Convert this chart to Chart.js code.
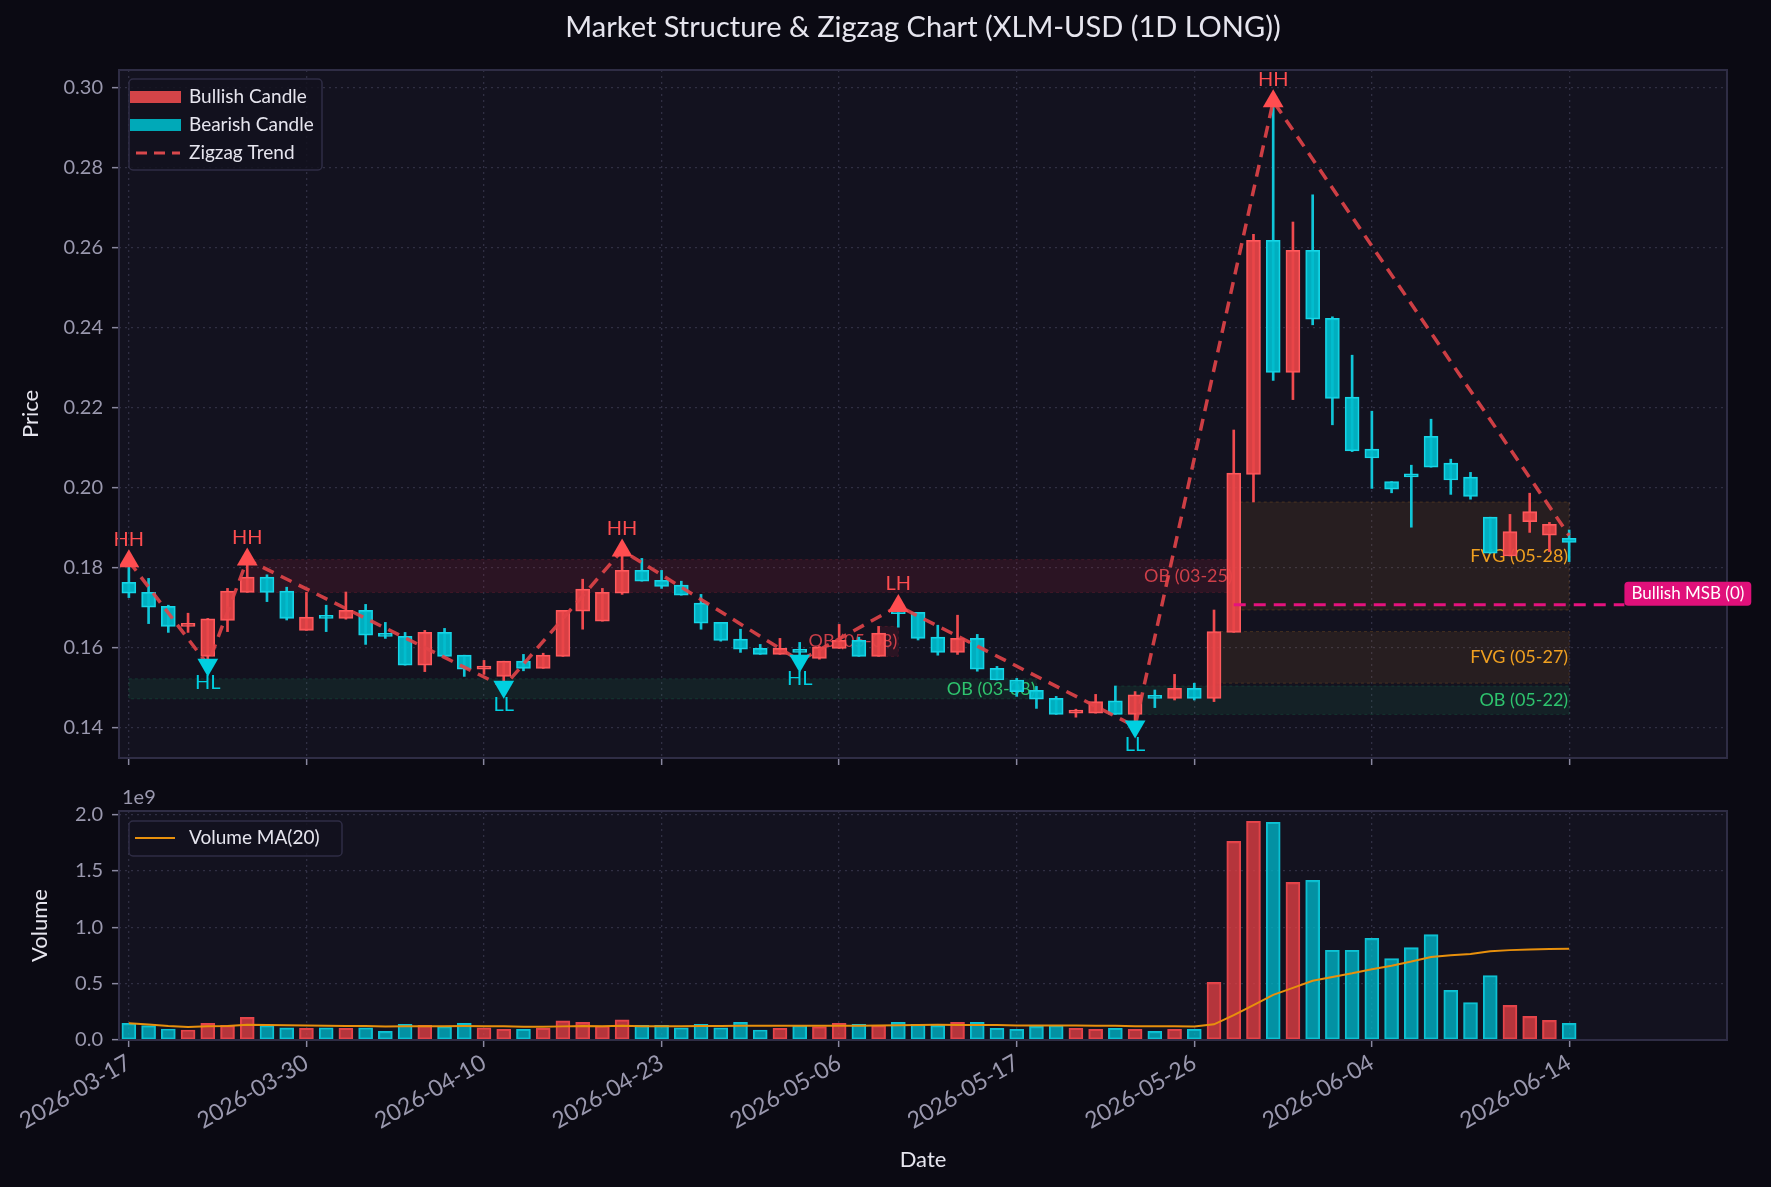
<!DOCTYPE html>
<html>
<head>
<meta charset="utf-8">
<script src="https://cdn.jsdelivr.net/npm/chart.js@4.4.1/dist/chart.umd.min.js"></script>
<style>
  html, body { margin: 0; padding: 0; background: #0b0a13; }
  #wrap { position: relative; width: 1771px; height: 1187px; background: #0b0a13; overflow: hidden; }
  canvas { position: absolute; left: 0; }
</style>
</head>
<body>
<div id="wrap">
  <canvas id="priceChart" width="1771" height="790" style="top:0px"></canvas>
  <canvas id="volChart" width="1771" height="397" style="top:790px"></canvas>
</div>
<script>
// ---- data ----
const tickIdx = [0, 9, 18, 27, 36, 45, 54, 63, 73];
const tickLabels = ['2026-03-17', '2026-03-30', '2026-04-10', '2026-04-23', '2026-05-06',
                    '2026-05-17', '2026-05-26', '2026-06-04', '2026-06-14'];

const opens  = [0.1763, 0.1738, 0.1703, 0.1653, 0.1578, 0.1668, 0.1738, 0.1776, 0.1741, 0.1643,
                0.1676, 0.1673, 0.1693, 0.1633, 0.1628, 0.1556, 0.1638, 0.1581, 0.1546, 0.1528,
                0.1566, 0.1548, 0.1578, 0.1691, 0.1666, 0.1736, 0.1793, 0.1768, 0.1756, 0.1711,
                0.1663, 0.1621, 0.1598, 0.1583, 0.1595, 0.1573, 0.1598, 0.1618, 0.1578, 0.1692,
                0.1688, 0.1626, 0.1588, 0.1623, 0.1548, 0.1519, 0.1493, 0.1473, 0.1436, 0.1436,
                0.1467, 0.1433, 0.1479, 0.1473, 0.1498, 0.1473, 0.1638, 0.2033, 0.2618, 0.2288,
                0.2593, 0.2423, 0.2226, 0.2096, 0.2015, 0.2033, 0.2128, 0.2061, 0.2026, 0.1926,
                0.1829, 0.1915, 0.1881, 0.1873];
const highs  = [0.1816, 0.1773, 0.1706, 0.1686, 0.1673, 0.1748, 0.1820, 0.1782, 0.1751, 0.1738,
                0.1706, 0.1739, 0.1708, 0.1663, 0.1638, 0.1643, 0.1648, 0.1581, 0.1568, 0.1566,
                0.1583, 0.1586, 0.1693, 0.1771, 0.1748, 0.1843, 0.1823, 0.1793, 0.1766, 0.1733,
                0.1663, 0.1646, 0.1608, 0.1623, 0.1613, 0.1603, 0.1658, 0.1626, 0.1653, 0.1704,
                0.1688, 0.1656, 0.1681, 0.1633, 0.1553, 0.1523, 0.1503, 0.1478, 0.1446, 0.1483,
                0.1504, 0.1490, 0.1494, 0.1533, 0.1511, 0.1694, 0.2144, 0.2633, 0.2966, 0.2664,
                0.2732, 0.2427, 0.2331, 0.2191, 0.2015, 0.2056, 0.2171, 0.2071, 0.2038, 0.1926,
                0.1933, 0.1986, 0.1913, 0.1894];
const lows   = [0.1725, 0.1660, 0.1638, 0.1638, 0.1557, 0.1640, 0.1738, 0.1715, 0.1669, 0.1643,
                0.1640, 0.1671, 0.1608, 0.1623, 0.1556, 0.1540, 0.1578, 0.1528, 0.1533, 0.1502,
                0.1542, 0.1548, 0.1578, 0.1646, 0.1666, 0.1733, 0.1766, 0.1748, 0.1731, 0.1646,
                0.1616, 0.1588, 0.1583, 0.1583, 0.1567, 0.1571, 0.1598, 0.1578, 0.1578, 0.1651,
                0.1619, 0.1581, 0.1583, 0.1541, 0.1519, 0.1478, 0.1448, 0.1433, 0.1426, 0.1436,
                0.1433, 0.1403, 0.1450, 0.1469, 0.1469, 0.1465, 0.1638, 0.1964, 0.2268, 0.2220,
                0.2407, 0.2157, 0.2090, 0.1998, 0.1987, 0.1901, 0.2051, 0.1983, 0.1971, 0.1836,
                0.1829, 0.1888, 0.1840, 0.1815];
const closes = [0.1736, 0.1701, 0.1653, 0.1659, 0.1672, 0.1741, 0.1776, 0.1738, 0.1673, 0.1676,
                0.1673, 0.1693, 0.1631, 0.1628, 0.1556, 0.1638, 0.1578, 0.1546, 0.1553, 0.1566,
                0.1548, 0.1581, 0.1693, 0.1746, 0.1738, 0.1793, 0.1766, 0.1753, 0.1731, 0.1661,
                0.1618, 0.1596, 0.1583, 0.1598, 0.1588, 0.1601, 0.1618, 0.1578, 0.1636, 0.1685,
                0.1623, 0.1588, 0.1623, 0.1546, 0.1519, 0.1490, 0.1471, 0.1433, 0.1438, 0.1465,
                0.1433, 0.1482, 0.1473, 0.1498, 0.1473, 0.1640, 0.2036, 0.2618, 0.2288, 0.2593,
                0.2421, 0.2223, 0.2092, 0.2074, 0.1996, 0.2027, 0.2051, 0.2019, 0.1978, 0.1836,
                0.1890, 0.1940, 0.1908, 0.1863];
// volume in units of 1e9
const volumes = [0.148, 0.127, 0.098, 0.089, 0.148, 0.130, 0.201, 0.130, 0.107, 0.104,
                 0.109, 0.104, 0.109, 0.077, 0.139, 0.130, 0.121, 0.148, 0.109, 0.095,
                 0.095, 0.104, 0.169, 0.157, 0.124, 0.178, 0.130, 0.130, 0.109, 0.139,
                 0.109, 0.157, 0.089, 0.104, 0.130, 0.118, 0.148, 0.139, 0.130, 0.157,
                 0.139, 0.130, 0.157, 0.157, 0.104, 0.095, 0.121, 0.130, 0.104, 0.095,
                 0.104, 0.095, 0.077, 0.095, 0.095, 0.512, 1.763, 1.941, 1.932, 1.399,
                 1.417, 0.796, 0.796, 0.902, 0.723, 0.820, 0.935, 0.440, 0.333, 0.572,
                 0.307, 0.209, 0.174, 0.147];

const priceTicks = [0.14, 0.16, 0.18, 0.20, 0.22, 0.24, 0.26, 0.28, 0.30];
const volTicks = [0, 0.5, 1.0, 1.5, 2.0];

// zigzag swing points
const swingIdx    = [0, 4, 6, 19, 25, 34, 39, 51, 58, 73];
const swingPrice  = [0.1816, 0.1557, 0.1820, 0.1502, 0.1843, 0.1567, 0.1704, 0.1403, 0.2966, 0.1880];
const swingLabels = ['HH', 'HL', 'HH', 'LL', 'HH', 'HL', 'LH', 'LL', 'HH', ''];

// order blocks / fair value gaps
const zoneLabels = ['OB (03-25)', 'OB (05-08)', 'OB (03-08)', 'OB (05-22)', 'FVG (05-27)', 'FVG (05-28)'];
const zoneKind   = ['bear', 'bear', 'bull', 'bull', 'fvg', 'fvg'];
const zoneFrom   = [6, 38, 0, 50, 55, 56];
const zoneTo     = [56, 39, 46, 73, 73, 73];
const zoneLow    = [0.1738, 0.1578, 0.1472, 0.1433, 0.1511, 0.1694];
const zoneHigh   = [0.1820, 0.1653, 0.1522, 0.1504, 0.1640, 0.1964];

// market structure break
const msbLabel = 'Bullish MSB (0)';
const msbLevel = 0.1707;
const msbFrom = 56;
const msbTo = 75.8;

// ---- styling ----
const FONT = 'Lato, "Noto Sans", sans-serif';
const BG_PLOT = '#13121f';
const SPINE = '#2f2d45';
const GRID = 'rgba(125,122,160,0.28)';
const TICK_TXT = '#9a98ae';
const LABEL_TXT = '#e6e5ee';
const RED = '#ff4d50', CYAN = '#00cfe0';
const zoneStyle = {
  bear: { fill: 'rgba(205,35,65,0.13)', edge: 'rgba(205,35,65,0.22)', text: 'rgba(235,70,80,0.85)' },
  bull: { fill: 'rgba(30,185,110,0.09)', edge: 'rgba(30,185,110,0.18)', text: '#2ec46e' },
  fvg:  { fill: 'rgba(240,150,40,0.09)', edge: 'rgba(240,150,40,0.20)', text: '#f0a020' }
};

Chart.defaults.font.family = FONT;
Chart.defaults.animation = false;

const idx = opens.map((_, i) => i);
const isUp = idx.map(i => closes[i] >= opens[i]);

// rolling mean of the volume series (window 20, min 1 value), as drawn in the source
function rollingMean(arr, n) {
  return arr.map((_, i) => {
    const s = arr.slice(Math.max(0, i - n + 1), i + 1);
    return s.reduce((a, b) => a + b, 0) / s.length;
  });
}
const volMA = rollingMean(volumes, 20);

const X_MIN = -0.5, X_MAX = 81;

const plotBg = {
  id: 'plotBg',
  beforeDraw(chart) {
    const { ctx, chartArea: a } = chart;
    ctx.save();
    ctx.fillStyle = BG_PLOT;
    ctx.fillRect(a.left, a.top, a.right - a.left, a.bottom - a.top);
    ctx.restore();
  },
  afterDraw(chart) {
    const { ctx, chartArea: a } = chart;
    ctx.save();
    ctx.strokeStyle = SPINE;
    ctx.lineWidth = 2;
    ctx.strokeRect(a.left, a.top, a.right - a.left, a.bottom - a.top);
    ctx.restore();
  }
};

function xAxisBase(showLabels) {
  return {
    type: 'linear', min: X_MIN, max: X_MAX, offset: false,
    afterBuildTicks: s => { s.ticks = tickIdx.map(v => ({ value: v })); },
    grid: { offset: false, color: GRID, lineWidth: 1.3, drawTicks: true, tickLength: 7, tickColor: '#8a88a0', tickWidth: 1.5 },
    border: { display: false, dash: [2, 4] },
    ticks: {
      display: showLabels, autoSkip: false, minRotation: 30, maxRotation: 30,
      color: TICK_TXT, font: { size: 23 }, padding: 2,
      callback: (v, i) => tickLabels[i]
    }
  };
}

function drawBoxLegend(ctx, x, y, w, h) {
  ctx.save();
  ctx.fillStyle = 'rgba(19,18,31,0.85)';
  ctx.strokeStyle = '#2f2d45';
  ctx.lineWidth = 1.5;
  ctx.beginPath();
  ctx.roundRect(x, y, w, h, 4);
  ctx.fill();
  ctx.stroke();
  ctx.restore();
}

// ---- price panel ----
const pricePlugin = {
  id: 'priceExtras',
  beforeDatasetsDraw(chart) {
    const { ctx, scales: { x, y } } = chart;
    ctx.save();
    zoneLabels.forEach((lab, k) => {
      const st = zoneStyle[zoneKind[k]];
      const x0 = x.getPixelForValue(zoneFrom[k]), x1 = x.getPixelForValue(zoneTo[k]);
      const y0 = y.getPixelForValue(zoneHigh[k]), y1 = y.getPixelForValue(zoneLow[k]);
      ctx.fillStyle = st.fill;
      ctx.fillRect(x0, y0, x1 - x0, y1 - y0);
      ctx.strokeStyle = st.edge;
      ctx.lineWidth = 1;
      ctx.setLineDash([3, 3]);
      ctx.strokeRect(x0, y0, x1 - x0, y1 - y0);
      ctx.setLineDash([]);
      ctx.fillStyle = st.text;
      ctx.font = '18px ' + FONT;
      ctx.textAlign = 'right';
      ctx.textBaseline = 'middle';
      ctx.fillText(lab, x1 - 1, (y0 + y1) / 2);
    });
    ctx.restore();
  },
  afterDatasetsDraw(chart) {
    const { ctx, scales: { x, y } } = chart;
    ctx.save();
    ctx.font = '20px ' + FONT;
    ctx.textAlign = 'center';
    swingLabels.forEach((lab, k) => {
      if (!lab) return;
      const px = x.getPixelForValue(swingIdx[k]);
      const py = y.getPixelForValue(swingPrice[k]);
      if (lab.endsWith('H')) {
        ctx.fillStyle = RED;
        ctx.textBaseline = 'middle';
        ctx.fillText(lab, px, py - 22);
      } else {
        ctx.fillStyle = CYAN;
        ctx.textBaseline = 'middle';
        ctx.fillText(lab, px, py + 18);
      }
    });
    ctx.restore();
  },
  afterDraw(chart) {
    const { ctx, chartArea: a, scales: { x, y } } = chart;
    ctx.save();
    // title
    ctx.fillStyle = LABEL_TXT;
    ctx.font = '29px ' + FONT;
    ctx.textAlign = 'center';
    ctx.textBaseline = 'middle';
    ctx.fillText('Market Structure & Zigzag Chart (XLM-USD (1D LONG))', (a.left + a.right) / 2, 28);
    // y title
    ctx.save();
    ctx.translate(31, (a.top + a.bottom) / 2);
    ctx.rotate(-Math.PI / 2);
    ctx.font = '22px ' + FONT;
    ctx.fillText('Price', 0, 0);
    ctx.restore();
    // MSB label box
    const lx = x.getPixelForValue(msbTo);
    const ly = y.getPixelForValue(msbLevel);
    ctx.font = '17px ' + FONT;
    const tw = ctx.measureText(msbLabel).width;
    ctx.fillStyle = '#e0107a';
    ctx.beginPath();
    ctx.roundRect(lx, ly - 23, tw + 14, 24, 4);
    ctx.fill();
    ctx.fillStyle = '#ffffff';
    ctx.textAlign = 'left';
    ctx.fillText(msbLabel, lx + 7, ly - 11);
    // legend
    drawBoxLegend(ctx, a.left + 10, a.top + 9, 193, 91);
    const items = [
      { t: 'Bullish Candle', kind: 'rect', c: '#d44448' },
      { t: 'Bearish Candle', kind: 'rect', c: '#00a9b8' },
      { t: 'Zigzag Trend', kind: 'dash', c: '#d9484c' }
    ];
    ctx.font = '19px ' + FONT;
    ctx.textBaseline = 'middle';
    items.forEach((it, k) => {
      const cy = a.top + 27 + k * 28;
      const hx = a.left + 11;
      if (it.kind === 'rect') {
        ctx.fillStyle = it.c;
        ctx.fillRect(hx, cy - 6, 51, 12);
      } else {
        ctx.strokeStyle = it.c;
        ctx.lineWidth = 3;
        ctx.setLineDash([11, 7]);
        ctx.beginPath();
        ctx.moveTo(hx + 6, cy);
        ctx.lineTo(hx + 50, cy);
        ctx.stroke();
        ctx.setLineDash([]);
      }
      ctx.fillStyle = LABEL_TXT;
      ctx.textAlign = 'left';
      ctx.fillText(it.t, a.left + 70, cy);
    });
    ctx.restore();
  }
};

const swingHighPts = [], swingLowPts = [];
swingLabels.forEach((lab, k) => {
  if (!lab) return;
  const p = { x: swingIdx[k], y: swingPrice[k] };
  (lab.endsWith('H') ? swingHighPts : swingLowPts).push(p);
});

new Chart(document.getElementById('priceChart'), {
  type: 'bar',
  data: {
    datasets: [
      {
        type: 'scatter', label: 'swing highs', order: 0,
        data: swingHighPts,
        pointStyle: 'triangle', pointRadius: 12, rotation: 0,
        backgroundColor: RED, borderWidth: 0
      },
      {
        type: 'scatter', label: 'swing lows', order: 0,
        data: swingLowPts,
        pointStyle: 'triangle', pointRadius: 12, rotation: 180,
        backgroundColor: CYAN, borderWidth: 0
      },
      {
        type: 'line', label: 'Zigzag Trend', order: 1,
        data: swingIdx.map((v, k) => ({ x: v, y: swingPrice[k] })),
        borderColor: 'rgba(226,68,72,0.9)', borderWidth: 3.5, borderDash: [12, 8],
        pointRadius: 0, tension: 0
      },
      {
        type: 'line', label: 'MSB', order: 1,
        data: [{ x: msbFrom, y: msbLevel }, { x: msbTo, y: msbLevel }],
        borderColor: '#e6127e', borderWidth: 3, borderDash: [12, 8],
        pointRadius: 0
      },
      {
        label: 'bodies', order: 2, grouped: false,
        data: idx.map(i => ({ x: i, y: [opens[i], closes[i]] })),
        backgroundColor: idx.map(i => isUp[i] ? 'rgba(232,68,72,0.92)' : 'rgba(0,188,205,0.92)'),
        borderColor: idx.map(i => isUp[i] ? '#ff5a5d' : '#17d5e6'),
        borderWidth: 1.5, borderSkipped: false, barThickness: 14, minBarLength: 3
      },
      {
        label: 'wicks', order: 3, grouped: false,
        data: idx.map(i => ({ x: i, y: [lows[i], highs[i]] })),
        backgroundColor: idx.map(i => isUp[i] ? '#f04a4e' : '#10c6d8'),
        borderWidth: 0, barThickness: 2
      }
    ]
  },
  options: {
    responsive: false,
    layout: { padding: { left: 0, right: 44, top: 70, bottom: 32 } },
    plugins: { legend: { display: false }, tooltip: { enabled: false } },
    scales: {
      x: Object.assign(xAxisBase(false), { afterFit: s => { s.height = 0; } }),
      y: {
        min: 0.1324, max: 0.3044,
        afterBuildTicks: s => { s.ticks = priceTicks.map(v => ({ value: v })); },
        afterFit: s => { s.width = 119; },
        grid: { color: GRID, lineWidth: 1.3, tickLength: 7, tickColor: '#8a88a0', tickWidth: 1.5 },
        border: { display: false, dash: [2, 4] },
        ticks: { color: TICK_TXT, font: { size: 20 }, padding: 9, callback: v => v.toFixed(2) }
      }
    }
  },
  plugins: [plotBg, pricePlugin]
});

// ---- volume panel ----
const volPlugin = {
  id: 'volExtras',
  afterDraw(chart) {
    const { ctx, chartArea: a } = chart;
    ctx.save();
    ctx.fillStyle = LABEL_TXT;
    ctx.textAlign = 'center';
    ctx.textBaseline = 'middle';
    ctx.font = '22px ' + FONT;
    ctx.fillText('Date', (a.left + a.right) / 2, 370);
    ctx.save();
    ctx.translate(40, (a.top + a.bottom) / 2);
    ctx.rotate(-Math.PI / 2);
    ctx.fillText('Volume', 0, 0);
    ctx.restore();
    ctx.fillStyle = TICK_TXT;
    ctx.font = '20px ' + FONT;
    ctx.textAlign = 'left';
    ctx.fillText('1e9', 122, 8);
    // legend
    drawBoxLegend(ctx, a.left + 10, a.top + 10, 213, 35);
    ctx.strokeStyle = '#e8900c';
    ctx.lineWidth = 2;
    ctx.beginPath();
    ctx.moveTo(a.left + 16, a.top + 27);
    ctx.lineTo(a.left + 56, a.top + 27);
    ctx.stroke();
    ctx.fillStyle = LABEL_TXT;
    ctx.font = '19px ' + FONT;
    ctx.fillText('Volume MA(20)', a.left + 70, a.top + 27);
    ctx.restore();
  }
};

new Chart(document.getElementById('volChart'), {
  type: 'bar',
  data: {
    datasets: [
      {
        type: 'line', label: 'Volume MA(20)', order: 0,
        data: idx.map(i => ({ x: i, y: volMA[i] })),
        borderColor: '#e8900c', borderWidth: 2, pointRadius: 0, tension: 0
      },
      {
        label: 'Volume', order: 1, grouped: false,
        data: idx.map(i => ({ x: i, y: volumes[i] })),
        backgroundColor: idx.map(i => isUp[i] ? 'rgba(222,62,68,0.8)' : 'rgba(0,178,196,0.8)'),
        borderColor: idx.map(i => isUp[i] ? '#e5454b' : '#0fc3d4'),
        borderWidth: 1.5, borderSkipped: false, barThickness: 14
      }
    ]
  },
  options: {
    responsive: false,
    layout: { padding: { left: 0, right: 44, top: 20.7, bottom: 0 } },
    plugins: { legend: { display: false }, tooltip: { enabled: false } },
    scales: {
      x: Object.assign(xAxisBase(true), { afterFit: s => { s.height = 147; } }),
      y: {
        min: 0, max: 2.032,
        afterBuildTicks: s => { s.ticks = volTicks.map(v => ({ value: v })); },
        afterFit: s => { s.width = 119; },
        grid: { color: GRID, lineWidth: 1.3, tickLength: 7, tickColor: '#8a88a0', tickWidth: 1.5 },
        border: { display: false, dash: [2, 4] },
        ticks: { color: TICK_TXT, font: { size: 20 }, padding: 9, callback: v => v.toFixed(1) }
      }
    }
  },
  plugins: [plotBg, volPlugin]
});
</script>
</body>
</html>
